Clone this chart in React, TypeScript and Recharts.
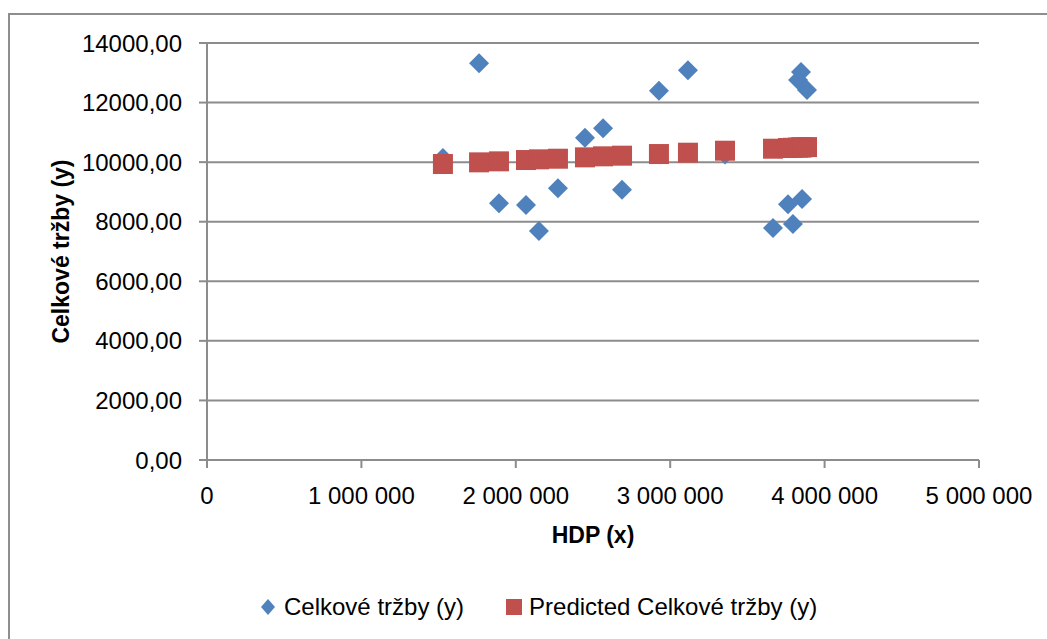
import React from "react";
import {
  ScatterChart,
  Scatter,
  XAxis,
  YAxis,
  CartesianGrid,
  Legend,
} from "recharts";

// HDP (x) values
const hdp = [
  1528000, 1762000, 1891000, 2066000, 2150000, 2273000, 2448000, 2565000,
  2688000, 2927000, 3115000, 3355000, 3666000, 3763000, 3795000, 3828000,
  3847000, 3854000, 3886000,
];
const trzby = [
  10140, 13320, 8620, 8560, 7690, 9125, 10815, 11140, 9070, 12400, 13085,
  10260, 7790, 8590, 7920, 12757, 13025, 8760, 12420,
];
const predicted = [
  9937, 9993, 10027, 10071, 10094, 10115, 10161, 10195, 10217, 10272, 10317,
  10384, 10451, 10474, 10482, 10490, 10495, 10497, 10505,
];

const xTicks = [0, 1000000, 2000000, 3000000, 4000000, 5000000];
const yTicks = [0, 2000, 4000, 6000, 8000, 10000, 12000, 14000];

const BLUE = "#4F81BD";
const RED = "#C0504D";
const AXIS = "#8c8c8c";
const FONT = "'Liberation Sans', Arial, sans-serif";

const actualData = hdp.map((x, i) => ({ x, y: trzby[i] }));
const predictedData = hdp.map((x, i) => ({ x, y: predicted[i] }));

const fmtX = (v: number) =>
  v === 0 ? "0" : String(v).replace(/\B(?=(\d{3})+(?!\d))/g, " ");
const fmtY = (v: number) => v.toFixed(2).replace(".", ",");

const Diamond = (props: any) => {
  const { cx, cy } = props;
  if (cx == null || cy == null) return null;
  const r = 10;
  return (
    <polygon
      points={`${cx},${cy - r} ${cx + r},${cy} ${cx},${cy + r} ${cx - r},${cy}`}
      fill={BLUE}
    />
  );
};

const Square = (props: any) => {
  const { cx, cy } = props;
  if (cx == null || cy == null) return null;
  return <rect x={cx - 10} y={cy - 10} width={20} height={20} fill={RED} />;
};

const LegendContent = () => (
  <div
    style={{
      display: "flex",
      alignItems: "center",
      fontFamily: FONT,
      fontSize: 24,
      color: "#000",
      whiteSpace: "nowrap",
      lineHeight: "28px",
    }}
  >
    <svg width={16} height={18} style={{ marginRight: 8 }}>
      <polygon points="8,1 15,9 8,17 1,9" fill={BLUE} />
    </svg>
    <span>Celkové tržby (y)</span>
    <svg width={16} height={16} style={{ marginLeft: 42, marginRight: 7 }}>
      <rect x={0} y={0} width={16} height={16} fill={RED} />
    </svg>
    <span>Predicted Celkové tržby (y)</span>
  </div>
);

const YTitle = (props: any) => {
  const vb = props.viewBox || {};
  const x = 51;
  const y = vb.y + vb.height / 2;
  return (
    <text
      x={x}
      y={y}
      transform={`rotate(-90, ${x}, ${y})`}
      textAnchor="middle"
      dominantBaseline="central"
      fontFamily={FONT}
      fontWeight="bold"
      fontSize={23}
      fill="#000"
    >
      Celkové tržby (y)
    </text>
  );
};

export default function App() {
  return (
    <div
      style={{
        position: "absolute",
        left: 8,
        top: 13,
        width: 1039,
        height: 626,
        boxSizing: "border-box",
        borderLeft: "2px solid #8e8e8e",
        borderTop: "2px solid #8e8e8e",
        background: "#fff",
        overflow: "hidden",
      }}
    >
      <ScatterChart
        width={1037}
        height={624}
        margin={{ top: 28, right: 68, left: 47, bottom: 79 }}
      >
        <CartesianGrid
          vertical={false}
          stroke={AXIS}
          strokeWidth={2}
        />
        <XAxis
          type="number"
          dataKey="x"
          domain={[0, 5000000]}
          ticks={xTicks}
          tickFormatter={fmtX}
          interval={0}
          height={100}
          tickSize={8}
          tickMargin={19}
          axisLine={{ stroke: AXIS, strokeWidth: 2 }}
          tickLine={{ stroke: AXIS, strokeWidth: 2 }}
          tick={{ fill: "#000", fontSize: 24, fontFamily: FONT }}
          label={{
            value: "HDP (x)",
            position: "insideTop",
            offset: 67,
            fill: "#000",
            fontSize: 23,
            fontWeight: "bold",
            fontFamily: FONT,
          }}
        />
        <YAxis
          type="number"
          dataKey="y"
          domain={[0, 14000]}
          ticks={yTicks}
          tickFormatter={fmtY}
          interval={0}
          width={150}
          tickSize={8}
          tickMargin={17}
          axisLine={{ stroke: AXIS, strokeWidth: 2 }}
          tickLine={{ stroke: AXIS, strokeWidth: 2 }}
          tick={{ fill: "#000", fontSize: 24, fontFamily: FONT }}
          label={<YTitle />}
        />
        <Legend
          layout="vertical"
          align="center"
          verticalAlign="middle"
          content={<LegendContent />}
          wrapperStyle={{ top: 578, left: 250, width: "auto" }}
        />
        <Scatter
          name="Celkové tržby (y)"
          data={actualData}
          shape={<Diamond />}
          isAnimationActive={false}
        />
        <Scatter
          name="Predicted Celkové tržby (y)"
          data={predictedData}
          shape={<Square />}
          isAnimationActive={false}
        />
      </ScatterChart>
    </div>
  );
}
